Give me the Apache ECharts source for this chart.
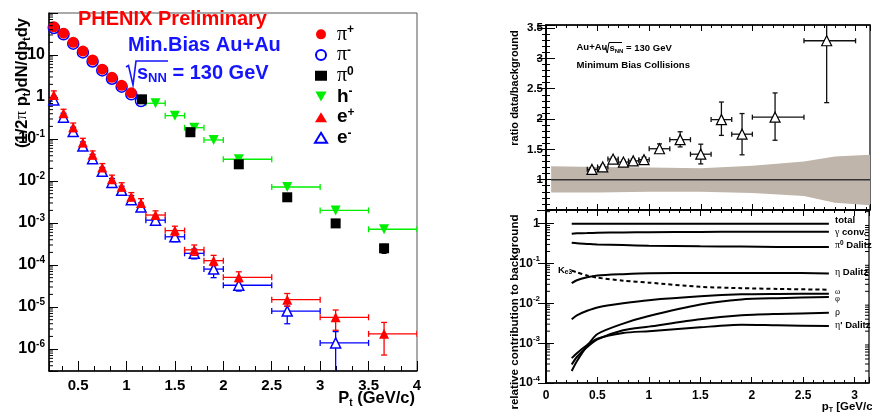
<!DOCTYPE html>
<html><head><meta charset="utf-8">
<script src="https://cdn.jsdelivr.net/npm/echarts@6/dist/echarts.min.js"></script>
<style>html,body{margin:0;padding:0;background:#fff}#c{width:872px;height:412px}</style>
</head><body><div id="c"></div>
<script>
// ---------------- Left panel: spectra ----------------
const pionX = [0.25,0.35,0.45,0.55,0.65,0.75,0.85,0.95,1.05];
const piPlusY = [47,33,20,12.4,7.6,4.6,2.94,1.9,1.26];
const piMinusX = [0.25,0.35,0.45,0.55,0.65,0.75,0.85,0.95,1.05,1.15];
const piMinusY = [44,31,18.6,11.5,7.0,4.3,2.72,1.76,1.16,0.80];
const pi0X = [1.16,1.66,2.16,2.66,3.16,3.66];
const pi0Y = [0.88,0.145,0.025,0.0041,0.00098,0.00025];
const pi0Lo = [0.80,0.128,0.020,0.0034,0.00080,0.00019];
const pi0Hi = [0.97,0.163,0.030,0.0049,0.00116,0.00031];
const hX = [1.3,1.5,1.7,1.9,2.16,2.66,3.16,3.66];
const hXlo = [1.2,1.4,1.6,1.8,2.0,2.5,3.0,3.5];
const hXhi = [1.4,1.6,1.8,2.0,2.5,3.0,3.5,4.0];
const hY = [0.71,0.36,0.186,0.095,0.033,0.0072,0.0020,0.00071];
const eX   = [0.25,0.35,0.45,0.55,0.65,0.75,0.85,0.95,1.05,1.15,1.3,1.5,1.7,1.9,2.16,2.66,3.16,3.66];
const eXlo = [0.25,0.35,0.45,0.55,0.65,0.75,0.85,0.95,1.05,1.15,1.2,1.4,1.6,1.8,2.0,2.5,3.0,3.5];
const eXhi = [0.25,0.35,0.45,0.55,0.65,0.75,0.85,0.95,1.05,1.15,1.4,1.6,1.8,2.0,2.5,3.0,3.5,4.0];
const ePlusY  = [1.12,0.41,0.19,0.083,0.042,0.021,0.011,0.0073,0.0042,0.0030,0.00155,0.00066,0.00023,0.000127,5.1e-5,1.5e-5,5.7e-6,2.3e-6];
const ePlusLo = [0.88,0.33,0.15,0.066,0.034,0.017,0.0088,0.0058,0.0034,0.0024,0.00122,0.00050,0.00017,0.000096,4.0e-5,1.05e-5,2.8e-6,7.2e-7];
const ePlusHi = [1.40,0.51,0.24,0.104,0.052,0.026,0.0138,0.0091,0.0053,0.0038,0.00195,0.00084,0.00030,0.00017,6.9e-5,2.1e-5,8.5e-6,4.3e-6];
const eMinusX   = [0.25,0.35,0.45,0.55,0.65,0.75,0.85,0.95,1.05,1.15,1.3,1.5,1.7,1.9,2.16,2.66,3.16];
const eMinusXlo = [0.25,0.35,0.45,0.55,0.65,0.75,0.85,0.95,1.05,1.15,1.2,1.4,1.6,1.8,2.0,2.5,3.0];
const eMinusXhi = [0.25,0.35,0.45,0.55,0.65,0.75,0.85,0.95,1.05,1.15,1.4,1.6,1.8,2.0,2.5,3.0,3.5];
const eMinusY  = [0.85,0.33,0.15,0.068,0.034,0.017,0.0092,0.0060,0.0036,0.0024,0.00117,0.00047,0.00019,8.0e-5,3.3e-5,8.0e-6,1.4e-6];
const eMinusLo = [0.68,0.26,0.12,0.054,0.027,0.0135,0.0073,0.0048,0.0029,0.0019,0.00092,0.00036,0.00014,5.0e-5,2.4e-5,4.0e-6,1e-8];
const eMinusHi = [1.05,0.41,0.19,0.085,0.043,0.021,0.0115,0.0075,0.0045,0.0030,0.00148,0.00060,0.00024,1.0e-4,4.2e-5,1.05e-5,2.6e-6];
const legendNames = ['π+','π-','π0','h-','e+','e-'];

// ---------------- Right top: ratio data/background ----------------
const ratioX   = [0.445,0.55,0.65,0.75,0.845,0.95,1.1,1.3,1.5,1.7,1.9,2.22,2.72];
const ratioXlo = [0.4,0.5,0.6,0.7,0.8,0.9,1.0,1.2,1.4,1.6,1.8,2.0,2.5];
const ratioXhi = [0.5,0.6,0.7,0.8,0.9,1.0,1.2,1.4,1.6,1.8,2.0,2.5,3.0];
const ratioY   = [1.17,1.21,1.34,1.29,1.31,1.33,1.51,1.66,1.42,1.99,1.75,2.03,3.29];
const ratioLo  = [1.14,1.18,1.31,1.26,1.28,1.29,1.44,1.54,1.26,1.73,1.41,1.65,2.27];
const ratioHi  = [1.20,1.24,1.37,1.32,1.34,1.37,1.59,1.79,1.585,2.28,2.09,2.43,4.3];
const bandX  = [0.05,0.5,1.0,1.5,2.0,2.5,2.8,3.14];
const bandHi = [1.22,1.21,1.20,1.19,1.23,1.30,1.38,1.41];
const bandLo = [0.79,0.79,0.80,0.80,0.78,0.73,0.62,0.58];
const refLineX = [0.05,3.14];
const refLineY = [1,1];

// ---------------- Right bottom: relative contributions ----------------
const contribX = [0.25,0.3,0.4,0.5,0.75,1.0,1.5,1.9,2.25,2.75];
const totalY   = [1,1,1,1,1,1,1,1,1,1];
const gammaY   = [0.56,0.57,0.58,0.59,0.60,0.61,0.62,0.63,0.63,0.63];
const pi0DalY  = [0.33,0.32,0.31,0.30,0.29,0.28,0.27,0.265,0.26,0.26];
const etaDalY  = [0.032,0.038,0.045,0.050,0.054,0.057,0.058,0.058,0.058,0.056];
const ke3Y     = [0.066,0.060,0.050,0.044,0.037,0.033,0.026,0.024,0.023,0.022];
const omegaY   = [0.0040,0.0050,0.0065,0.0079,0.010,0.012,0.015,0.0168,0.0172,0.0175];
const phiY     = [0.00020,0.00035,0.00085,0.0017,0.0031,0.0048,0.0093,0.0125,0.0135,0.0145];
const rhoY     = [0.00029,0.00045,0.00080,0.00125,0.0021,0.0026,0.0040,0.0050,0.0054,0.0058];
const etapY    = [0.00042,0.00056,0.00090,0.0013,0.0018,0.0020,0.0025,0.0029,0.0028,0.0027];

// log-axis minor tick multipliers and decades (axis decoration)
const logMinorMult = [2,3,4,5,6,7,8,9];
const leftDecades = [-7,-6,-5,-4,-3,-2,-1,0,1];
const contribDecades = [-4,-3,-2,-1,0];

const SANS = '"Liberation Sans", Arial, Helvetica, sans-serif';
const SERIF = '"Liberation Serif", "DejaVu Serif", serif';

function logFmt(v) {
  const e = Math.log10(v);
  const r = Math.round(e);
  if (Math.abs(e - r) > 1e-6) return '';
  if (r === 0) return '{b|1}';
  if (r === 1) return '{b|10}';
  if (r >= 2) return '';
  return '{b|10}{sup|' + r + '}';
}
function logLabel(size, margin) {
  return {
    formatter: logFmt, margin: margin, color: '#000',
    fontFamily: SANS, fontWeight: 'bold', fontSize: size,
    rich: {
      b: {fontFamily: SANS, fontWeight: 'bold', fontSize: size, lineHeight: size + 4, color: '#000'},
      sup: {fontFamily: SANS, fontWeight: 'bold', fontSize: Math.round(size * 0.62), lineHeight: Math.round(size * 0.62), verticalAlign: 'top', color: '#000'}
    }
  };
}
function halfFmt(minShow) {
  return v => (v < minShow - 1e-9 || Math.abs(v * 2 - Math.round(v * 2)) > 1e-6) ? '' : String(+v.toFixed(1));
}

function errSeries(name, xs, ys, xlo, xhi, ylo, yhi, color, xi, yi, z, cap) {
  const data = xs.map((x, i) => [x, ys[i], xlo[i], xhi[i], ylo[i], yhi[i]]);
  return {
    name: name, type: 'custom', xAxisIndex: xi, yAxisIndex: yi, z: z, silent: true, clip: true,
    encode: {x: 0, y: 1}, data: data,
    renderItem: function (params, api) {
      const x = api.value(0), y = api.value(1), a = api.value(2), b = api.value(3), lo = api.value(4), hi = api.value(5);
      const c = api.coord([x, y]);
      const st = {stroke: color, lineWidth: 1.3};
      const ch = [];
      if (b > a) {
        const l = api.coord([a, y]), r = api.coord([b, y]);
        ch.push({type: 'line', shape: {x1: l[0], y1: c[1], x2: r[0], y2: c[1]}, style: st});
        ch.push({type: 'line', shape: {x1: l[0], y1: c[1] - cap, x2: l[0], y2: c[1] + cap}, style: st});
        ch.push({type: 'line', shape: {x1: r[0], y1: c[1] - cap, x2: r[0], y2: c[1] + cap}, style: st});
      }
      if (hi > lo) {
        const t = api.coord([x, hi]), bt = api.coord([x, lo]);
        ch.push({type: 'line', shape: {x1: c[0], y1: t[1], x2: c[0], y2: bt[1]}, style: st});
        ch.push({type: 'line', shape: {x1: c[0] - cap, y1: t[1], x2: c[0] + cap, y2: t[1]}, style: st});
        ch.push({type: 'line', shape: {x1: c[0] - cap, y1: bt[1], x2: c[0] + cap, y2: bt[1]}, style: st});
      }
      return {type: 'group', children: ch};
    }
  };
}
function scatter(name, xs, ys, xi, yi, symbol, size, itemStyle, z) {
  return {name: name, type: 'scatter', xAxisIndex: xi, yAxisIndex: yi, z: z, symbol: symbol, symbolSize: size,
    itemStyle: Object.assign({opacity: 1}, itemStyle), data: xs.map((x, i) => [x, ys[i]]), silent: true};
}
function curve(name, ys, dashed) {
  return {name: name, type: 'line', xAxisIndex: 3, yAxisIndex: 3, showSymbol: false, symbol: 'none',
    smooth: 0.25, z: 3, silent: true, clip: true,
    lineStyle: {color: '#000', width: 2, type: dashed ? [4, 3] : 'solid'},
    data: contribX.map((x, i) => [x, ys[i]])};
}
function minorTicks(xi, yi, xEdge, dir, len, decades) {
  const vals = [];
  decades.forEach(d => logMinorMult.forEach(m => vals.push(m * Math.pow(10, d))));
  return {type: 'custom', xAxisIndex: xi, yAxisIndex: yi, silent: true, clip: true, z: 5,
    encode: {x: 0, y: 1}, data: vals.map(v => [xEdge, v]),
    renderItem: function (p, api) {
      const c = api.coord([api.value(0), api.value(1)]);
      return {type: 'line', shape: {x1: c[0], y1: c[1], x2: c[0] + dir * len, y2: c[1]}, style: {stroke: '#000', lineWidth: 1}};
    }};
}

const axisLine = {show: true, lineStyle: {color: '#000', width: 1.5}};
function tick(len) { return {show: true, inside: true, length: len, lineStyle: {color: '#000', width: 1}}; }
function minor(n, len) { return {show: true, splitNumber: n, length: len, lineStyle: {color: '#000', width: 1}}; }

const rTopX = {type: 'value', min: 0, max: 3.14, interval: 0.5, axisLine: axisLine, splitLine: {show: false},
  axisTick: tick(6), minorTick: minor(5, 3), axisLabel: {show: false}};

const option = {
  animation: false,
  backgroundColor: '#fff',
  grid: [
    {left: 49, top: 13, width: 368, height: 358, show: true, borderColor: '#555', borderWidth: 1, backgroundColor: 'transparent'},
    {left: 546, top: 25, width: 324, height: 185, show: true, borderColor: '#000', borderWidth: 1.2},
    {left: 546, top: 210, width: 324, height: 173, show: true, borderColor: '#000', borderWidth: 1.2}
  ],
  xAxis: [
    {gridIndex: 0, type: 'value', min: 0.2, max: 4, splitNumber: 8, axisLine: axisLine, splitLine: {show: false},
      axisTick: tick(10), minorTick: minor(3, 5),
      axisLabel: {formatter: halfFmt(0.5), fontFamily: SANS, fontWeight: 'bold', fontSize: 15, color: '#000', margin: 7}},
    Object.assign({gridIndex: 1}, rTopX),
    Object.assign({gridIndex: 1, position: 'top'}, rTopX),
    Object.assign({}, rTopX, {gridIndex: 2,
      axisLabel: {show: true, formatter: halfFmt(0), fontFamily: SANS, fontWeight: 'bold', fontSize: 12, color: '#000', margin: 7}}),
    Object.assign({gridIndex: 2, position: 'top'}, rTopX)
  ],
  yAxis: [
    {gridIndex: 0, type: 'log', logBase: 10, min: 3e-7, max: 100, axisLine: axisLine, splitLine: {show: false},
      axisTick: tick(9), minorTick: {show: false}, axisLabel: logLabel(16, 4)},
    {gridIndex: 1, type: 'value', min: 0.5, max: 3.55, interval: 0.5, axisLine: axisLine, splitLine: {show: false},
      axisTick: tick(9), minorTick: minor(5, 4),
      axisLabel: {formatter: halfFmt(1), fontFamily: SANS, fontWeight: 'bold', fontSize: 11.5, color: '#000', margin: 3}},
    {gridIndex: 1, type: 'value', position: 'right', min: 0.5, max: 3.55, interval: 0.5, axisLine: axisLine, splitLine: {show: false},
      axisTick: tick(9), minorTick: minor(5, 4), axisLabel: {show: false}},
    {gridIndex: 2, type: 'log', logBase: 10, min: 1e-4, max: 2.2, axisLine: axisLine, splitLine: {show: false},
      axisTick: tick(8), minorTick: {show: false}, axisLabel: logLabel(12.5, 6)},
    {gridIndex: 2, type: 'log', logBase: 10, position: 'right', min: 1e-4, max: 2.2, axisLine: axisLine, splitLine: {show: false},
      axisTick: tick(8), minorTick: {show: false}, axisLabel: {show: false}}
  ],
  legend: {
    left: 314, top: 24, orient: 'vertical', padding: 0, itemGap: 0, itemWidth: 12, itemHeight: 10,
    selectedMode: false, data: legendNames,
    formatter: function (n) {
      const base = n.charAt(0), s = n.charAt(1);
      const head = base === 'π' ? '{pi|π}' : '{b|' + base + '}';
      return '{sp| }' + head + '{sup|' + s + '}';
    },
    textStyle: {
      color: '#000', fontFamily: SANS, fontWeight: 'bold', fontSize: 18, lineHeight: 20.7,
      rich: {
        sp: {fontFamily: SANS, fontSize: 18, lineHeight: 20.7},
        pi: {fontFamily: SERIF, fontSize: 20, fontWeight: 'normal', lineHeight: 20.7, color: '#000'},
        b: {fontFamily: SANS, fontSize: 19, fontWeight: 'bold', lineHeight: 20.7, color: '#000'},
        sup: {fontFamily: SANS, fontSize: 12, fontWeight: 'bold', lineHeight: 12, verticalAlign: 'top', color: '#000'}
      }
    }
  },
  series: [
    // left panel
    errSeries('err-pi0', pi0X, pi0Y, pi0X, pi0X, pi0Lo, pi0Hi, '#000', 0, 0, 2, 2.5),
    errSeries('err-h', hX, hY, hXlo, hXhi, hY, hY, '#00ee00', 0, 0, 2, 3),
    errSeries('err-em', eMinusX, eMinusY, eMinusXlo, eMinusXhi, eMinusLo, eMinusHi, '#0000ff', 0, 0, 2, 3),
    scatter('π-', piMinusX, piMinusY, 0, 0, 'circle', 11, {color: '#fff', borderColor: '#0000ff', borderWidth: 1.5}, 3),
    scatter('π+', pionX, piPlusY, 0, 0, 'circle', 11, {color: '#ff0000'}, 4),
    scatter('e-', eMinusX, eMinusY, 0, 0, 'triangle', 10, {color: '#fff', borderColor: '#0000ff', borderWidth: 1.5}, 3),
    errSeries('err-ep', eX, ePlusY, eXlo, eXhi, ePlusLo, ePlusHi, '#ff0000', 0, 0, 4, 3),
    scatter('e+', eX, ePlusY, 0, 0, 'triangle', 10, {color: '#ff0000'}, 5),
    scatter('h-', hX, hY, 0, 0, 'path://M0,0L10,0L5,9Z', 10, {color: '#00ee00'}, 5),
    scatter('π0', pi0X, pi0Y, 0, 0, 'rect', 10, {color: '#000'}, 6),
    minorTicks(0, 0, 0.2, 1, 4, leftDecades),
    // right top
    {type: 'custom', name: 'band', xAxisIndex: 1, yAxisIndex: 1, silent: true, clip: true, z: 1,
      encode: {x: 0, y: 1}, data: bandX.map((x, i) => [x, bandLo[i], bandHi[i]]),
      renderItem: function (params, api) {
        if (params.dataIndex !== 0) return null;
        const top = bandX.map((x, i) => api.coord([x, bandHi[i]]));
        const bot = bandX.map((x, i) => api.coord([x, bandLo[i]])).reverse();
        return {type: 'polygon', shape: {points: top.concat(bot)}, style: {fill: '#bfb5aa'}};
      }},
    {type: 'line', name: 'unity', xAxisIndex: 1, yAxisIndex: 1, z: 2, symbol: 'none', silent: true,
      lineStyle: {color: '#333', width: 1.5}, data: refLineX.map((x, i) => [x, refLineY[i]])},
    errSeries('err-ratio', ratioX, ratioY, ratioXlo, ratioXhi, ratioLo, ratioHi, '#111', 1, 1, 3, 2.5),
    scatter('ratio', ratioX, ratioY, 1, 1, 'triangle', 10, {color: '#fff', borderColor: '#000', borderWidth: 1.2}, 4),
    // right bottom
    curve('total', totalY), curve('gamma', gammaY), curve('pi0dal', pi0DalY), curve('etadal', etaDalY),
    curve('ke3', ke3Y, true), curve('omega', omegaY), curve('phi', phiY), curve('rho', rhoY), curve('etap', etapY),
    minorTicks(3, 3, 0, 1, 4, contribDecades),
    minorTicks(3, 3, 3.14, -1, 4, contribDecades)
  ],
  graphic: [
    {type: 'text', x: 78, y: 19, z: 100, style: {text: 'PHENIX Preliminary', font: 'bold 20px ' + SANS, fill: '#ff0000', align: 'left', verticalAlign: 'middle'}},
    {type: 'text', x: 128, y: 45, z: 100, style: {text: 'Min.Bias Au+Au', font: 'bold 20px ' + SANS, fill: '#1414ff', align: 'left', verticalAlign: 'middle'}},
    {type: 'polyline', z: 100, shape: {points: [[126, 67], [128.5, 65.5], [133, 85], [136, 61], [168, 61]]}, style: {stroke: '#1414ff', lineWidth: 1.6, fill: null}},
    {type: 'text', x: 137, y: 73, z: 100, style: {text: '{b|s}{sub|NN}{b| = 130 GeV}', align: 'left', verticalAlign: 'middle', fill: '#1414ff',
      rich: {b: {font: 'bold 20px ' + SANS, fill: '#1414ff', lineHeight: 24}, sub: {font: 'bold 13px ' + SANS, fill: '#1414ff', lineHeight: 13, verticalAlign: 'bottom'}}}},
    {type: 'text', x: 22, y: 83, rotation: Math.PI / 2, z: 100, style: {text: '{b|(1/2}{pi|π}{b| p}{sub|t}{b|)dN/dp}{sub|t}{b|dy}', align: 'center', verticalAlign: 'middle',
      rich: {b: {font: 'bold 16.5px ' + SANS, fill: '#000', lineHeight: 20}, pi: {font: '17px ' + SERIF, fill: '#000', lineHeight: 20},
        sub: {font: 'bold 10px ' + SANS, fill: '#000', lineHeight: 10, verticalAlign: 'bottom'}}}},
    {type: 'text', x: 415, y: 398, z: 100, style: {text: '{b|P}{sub|t}{b| (GeV/c)}', align: 'right', verticalAlign: 'middle',
      rich: {b: {font: 'bold 16.5px ' + SANS, fill: '#000', lineHeight: 20}, sub: {font: 'bold 10px ' + SANS, fill: '#000', lineHeight: 10, verticalAlign: 'bottom'}}}},
    // right panel texts
    {type: 'text', x: 576.5, y: 47.7, z: 100, style: {text: 'Au+Au', font: 'bold 9.5px ' + SANS, fill: '#000', align: 'left', verticalAlign: 'middle'}},
    {type: 'polyline', z: 100, shape: {points: [[604, 48.5], [605.3, 47.8], [607.3, 53], [609, 42.5], [622, 42.5]]}, style: {stroke: '#000', lineWidth: 1, fill: null}},
    {type: 'text', x: 609.5, y: 48, z: 100, style: {text: '{b|s}{sub|NN}{b| = 130 GeV}', align: 'left', verticalAlign: 'middle',
      rich: {b: {font: 'bold 9.5px ' + SANS, fill: '#000', lineHeight: 12}, sub: {font: 'bold 6px ' + SANS, fill: '#000', lineHeight: 6, verticalAlign: 'bottom'}}}},
    {type: 'text', x: 576.5, y: 65.7, z: 100, style: {text: 'Minimum Bias Collisions', font: 'bold 9.6px ' + SANS, fill: '#000', align: 'left', verticalAlign: 'middle'}},
    {type: 'text', x: 515, y: 88, rotation: Math.PI / 2, z: 100, style: {text: 'ratio data/background', font: 'bold 11px ' + SANS, fill: '#000', align: 'center', verticalAlign: 'middle'}},
    {type: 'text', x: 515, y: 312, rotation: Math.PI / 2, z: 100, style: {text: 'relative contribution to background', font: 'bold 11.6px ' + SANS, fill: '#000', align: 'center', verticalAlign: 'middle'}},
    {type: 'text', x: 821.7, y: 407, z: 100, style: {text: '{b|p}{sub|T}{b| [GeV/c]}', align: 'left', verticalAlign: 'middle',
      rich: {b: {font: 'bold 11.5px ' + SANS, fill: '#000', lineHeight: 14}, sub: {font: 'bold 7px ' + SANS, fill: '#000', lineHeight: 7, verticalAlign: 'bottom'}}}},
    {type: 'text', x: 558, y: 270, z: 100, style: {text: '{b|K}{sub|e3}', align: 'left', verticalAlign: 'middle',
      rich: {b: {font: 'bold 9.5px ' + SANS, fill: '#000', lineHeight: 12}, sub: {font: 'bold 6.5px ' + SANS, fill: '#000', lineHeight: 7, verticalAlign: 'bottom'}}}},
    {type: 'text', x: 835, y: 220.7, z: 100, style: {text: 'total', font: 'bold 9.5px ' + SANS, fill: '#000', align: 'left', verticalAlign: 'middle'}},
    {type: 'text', x: 835, y: 232.7, z: 100, style: {text: '{g|γ}{b| conv.}', align: 'left', verticalAlign: 'middle',
      rich: {b: {font: 'bold 9.5px ' + SANS, fill: '#000'}, g: {font: '10px ' + SERIF, fill: '#000'}}}},
    {type: 'text', x: 835, y: 245.7, z: 100, style: {text: '{g|π}{sup|0}{b| Dalitz}', align: 'left', verticalAlign: 'middle',
      rich: {b: {font: 'bold 9.5px ' + SANS, fill: '#000', lineHeight: 12}, g: {font: '10px ' + SERIF, fill: '#000', lineHeight: 12}, sup: {font: 'bold 6.5px ' + SANS, fill: '#000', lineHeight: 7, verticalAlign: 'top'}}}},
    {type: 'text', x: 835, y: 272.3, z: 100, style: {text: '{g|η}{b| Dalitz}', align: 'left', verticalAlign: 'middle',
      rich: {b: {font: 'bold 9.5px ' + SANS, fill: '#000'}, g: {font: '10px ' + SERIF, fill: '#000'}}}},
    {type: 'text', x: 835, y: 291.5, z: 100, style: {text: 'ω', font: '8px ' + SERIF, fill: '#000', align: 'left', verticalAlign: 'middle'}},
    {type: 'text', x: 835, y: 298.5, z: 100, style: {text: 'φ', font: '8.5px ' + SERIF, fill: '#000', align: 'left', verticalAlign: 'middle'}},
    {type: 'text', x: 835, y: 312.7, z: 100, style: {text: 'ρ', font: '10px ' + SERIF, fill: '#000', align: 'left', verticalAlign: 'middle'}},
    {type: 'text', x: 835, y: 325.7, z: 100, style: {text: "{g|η}{b|' Dalitz}", align: 'left', verticalAlign: 'middle',
      rich: {b: {font: 'bold 9.5px ' + SANS, fill: '#000'}, g: {font: '10px ' + SERIF, fill: '#000'}}}}
  ]
};
const chart = echarts.init(document.getElementById('c'), null, {renderer: 'canvas'});
chart.setOption(option);
</script>
</body></html>
